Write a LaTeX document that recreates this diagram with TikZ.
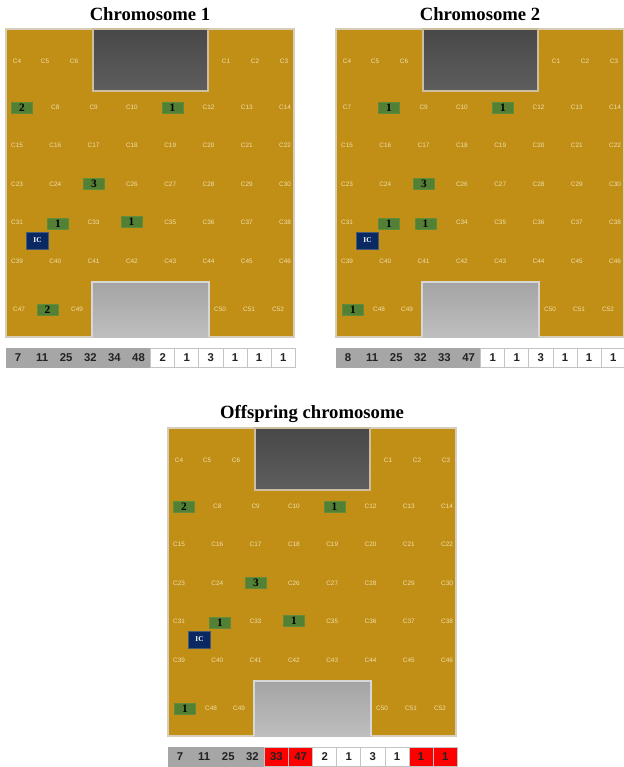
\documentclass[tikz,border=0pt]{standalone}
\usepackage{fontspec}
\setmainfont{Liberation Serif}
\newfontfamily\sansf{Liberation Sans}
\definecolor{gold}{RGB}{193,142,22}
\definecolor{goldborder}{RGB}{214,206,186}
\definecolor{celltext}{RGB}{240,224,170}
\definecolor{boxgreen}{RGB}{82,128,52}
\definecolor{boxgreenedge}{RGB}{96,140,60}
\definecolor{icblue}{RGB}{10,40,98}
\definecolor{icedge}{RGB}{70,90,120}
\definecolor{darkA}{RGB}{72,72,72}
\definecolor{darkB}{RGB}{94,94,94}
\definecolor{darkedge}{RGB}{205,190,160}
\definecolor{lightA}{RGB}{164,164,164}
\definecolor{lightB}{RGB}{190,190,190}
\definecolor{lightedge}{RGB}{215,215,215}
\definecolor{genegray}{RGB}{166,166,166}
\definecolor{geneedge}{RGB}{196,196,196}
\definecolor{genered}{RGB}{255,0,0}
\definecolor{genetext}{RGB}{34,34,34}
\tikzset{
  ptitle/.style={font=\fontsize{14}{16}\selectfont\bfseries, inner sep=0},
  clabel/.style={font=\sansf\fontsize{4.8}{5}\selectfont, text=celltext, inner sep=0},
  gbox/.style={fill=boxgreen, draw=boxgreenedge, line width=0.4pt, minimum width=15.75pt, minimum height=8.25pt, inner sep=0, font=\fontsize{8.5}{8}\selectfont\bfseries},
  icbox/.style={fill=icblue, draw=icedge, line width=0.4pt, minimum width=16.5pt, minimum height=12.75pt, inner sep=0, text=white, font=\fontsize{5.5}{6}\selectfont\bfseries},
  genecell/.style={minimum width=18.07pt, minimum height=14.25pt, inner sep=0, line width=0.5pt, font=\sansf\fontsize{8.5}{9}\selectfont\bfseries, text=genetext},
}
\newcommand{\panelcommon}[2]{%
  \node[ptitle] (#1title) at (150,14.5) {#2};
  \path[fill=gold, draw=goldborder, line width=0.9pt] (6,29) rectangle (294,337);
  \shade[top color=darkA, bottom color=darkB] (93,29) rectangle (208,91);
  \draw[draw=darkedge, line width=0.8pt] (93,29) rectangle (208,91);
  \shade[top color=lightA, bottom color=lightB] (92,282) rectangle (209,337);
  \draw[draw=lightedge, line width=0.8pt] (92,337) -- (92,282) -- (209,282) -- (209,337);
  \foreach \t/\x in {C4/17,C5/45,C6/74,C1/226,C2/255,C3/284}
    \node[clabel] (#1\t) at (\x,61) {\t};
  \foreach \t [count=\c from 0] in {C15,C16,C17,C18,C19,C20,C21,C22}
    \node[clabel] (#1\t) at ({17+38.3*\c},145) {\t};
  \foreach \t/\c in {C23/0,C24/1,C26/3,C27/4,C28/5,C29/6,C30/7}
    \node[clabel] (#1\t) at ({17+38.3*\c},184) {\t};
  \node[gbox] (#1b25) at (94,183.5) {3};
  \foreach \t [count=\c from 0] in {C39,C40,C41,C42,C43,C44,C45,C46}
    \node[clabel] (#1\t) at ({17+38.3*\c},261) {\t};
  \foreach \t/\x in {C49/77,C50/220,C51/249,C52/278}
    \node[clabel] (#1\t) at (\x,309) {\t};
  \node[icbox] (#1ic) at (37.5,240.5) {IC};
}
\newcommand{\generow}[2]{%
  \foreach \v/\f/\d [count=\k from 0] in {#2}
    \node[genecell, fill=\f, draw=\d] (#1g\k) at ({18.05+24.1*\k},357.5) {\v};
}
\begin{document}
\begin{tikzpicture}[x=0.75pt,y=-0.75pt]
\useasboundingbox[fill=white] (0,0) rectangle (624,767);
% ---------------- Chromosome 1
\begin{scope}
  \panelcommon{pa}{Chromosome 1}
  \foreach \t/\c in {C8/1,C9/2,C10/3,C12/5,C13/6,C14/7}
    \node[clabel] (pa\t) at ({17+38.3*\c},107) {\t};
  \node[gbox] (pab7) at (22,108) {2};
  \node[gbox] (pab11) at (172.5,108) {1};
  \foreach \t/\c in {C31/0,C33/2,C35/4,C36/5,C37/6,C38/7}
    \node[clabel] (pa\t) at ({17+38.3*\c},222) {\t};
  \node[gbox] (pab32) at (58,224) {1};
  \node[gbox] (pab34) at (131.5,222) {1};
  \node[clabel] (paC47) at (19,309) {C47};
  \node[gbox] (pab48) at (47.5,309.5) {2};
  \generow{pa}{7/genegray/genegray,11/genegray/genegray,25/genegray/genegray,32/genegray/genegray,34/genegray/genegray,48/genegray/genegray,2/white/geneedge,1/white/geneedge,3/white/geneedge,1/white/geneedge,1/white/geneedge,1/white/geneedge}
\end{scope}
% ---------------- Chromosome 2
\begin{scope}[shift={(330,0)}]
  \panelcommon{pb}{Chromosome 2}
  \foreach \t/\c in {C7/0,C9/2,C10/3,C12/5,C13/6,C14/7}
    \node[clabel] (pb\t) at ({17+38.3*\c},107) {\t};
  \node[gbox] (pbb8) at (59,108) {1};
  \node[gbox] (pbb11) at (173,108) {1};
  \foreach \t/\c in {C31/0,C34/3,C35/4,C36/5,C37/6,C38/7}
    \node[clabel] (pb\t) at ({17+38.3*\c},222) {\t};
  \node[gbox] (pbb32) at (59,223.5) {1};
  \node[gbox] (pbb33) at (95.5,223.5) {1};
  \node[gbox] (pbb47) at (23,309.5) {1};
  \node[clabel] (pbC48) at (49,309) {C48};
  \generow{pb}{8/genegray/genegray,11/genegray/genegray,25/genegray/genegray,32/genegray/genegray,33/genegray/genegray,47/genegray/genegray,1/white/geneedge,1/white/geneedge,3/white/geneedge,1/white/geneedge,1/white/geneedge,1/white/geneedge}
\end{scope}
% ---------------- Offspring
\begin{scope}[shift={(162,399)}]
  \panelcommon{pc}{Offspring chromosome}
  \foreach \t/\c in {C8/1,C9/2,C10/3,C12/5,C13/6,C14/7}
    \node[clabel] (pc\t) at ({17+38.3*\c},107) {\t};
  \node[gbox] (pcb7) at (22,108) {2};
  \node[gbox] (pcb11) at (172.5,108) {1};
  \foreach \t/\c in {C31/0,C33/2,C35/4,C36/5,C37/6,C38/7}
    \node[clabel] (pc\t) at ({17+38.3*\c},222) {\t};
  \node[gbox] (pcb32) at (58,223.5) {1};
  \node[gbox] (pcb34) at (132,222) {1};
  \node[gbox] (pcb47) at (23,309.5) {1};
  \node[clabel] (pcC48) at (49,309) {C48};
  \generow{pc}{7/genegray/genegray,11/genegray/genegray,25/genegray/genegray,32/genegray/genegray,33/genered/geneedge,47/genered/geneedge,2/white/geneedge,1/white/geneedge,3/white/geneedge,1/white/geneedge,1/genered/geneedge,1/genered/geneedge}
\end{scope}
\end{tikzpicture}
\end{document}
